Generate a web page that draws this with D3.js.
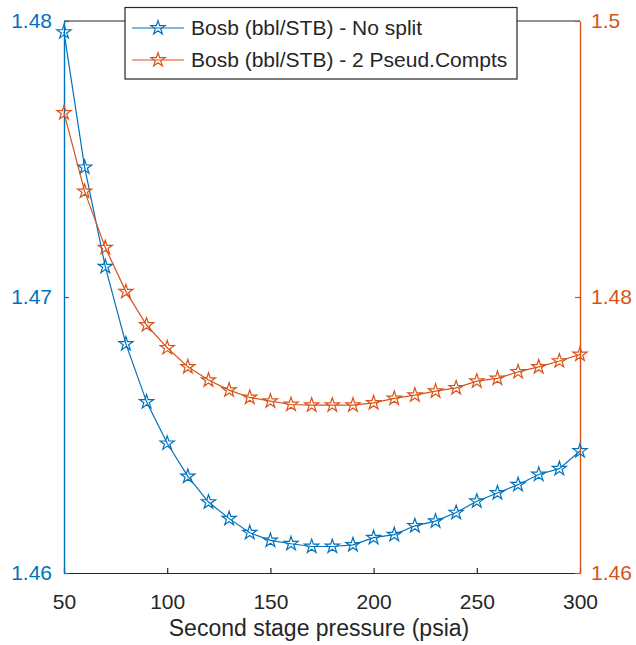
<!DOCTYPE html>
<html>
<head>
<meta charset="utf-8">
<script src="https://cdn.jsdelivr.net/npm/d3@7"></script>
<style>
  html, body { margin: 0; padding: 0; background: #fff; }
  svg { display: block; font-family: "Liberation Sans", Arial, Helvetica, sans-serif; }
</style>
</head>
<body>
<svg id="chart" width="636" height="645"></svg>
<script>
const pressure = [50,60,70,80,90,100,110,120,130,140,150,160,170,180,190,200,210,220,230,240,250,260,270,280,290,300];
const noSplit = [1.4796,1.4747,1.4711,1.4683,1.4662,1.4647,1.4635,1.46257,1.46197,1.46146,1.46118,1.46106,1.46096,1.46096,1.46102,1.46128,1.46139,1.46171,1.46188,1.46219,1.4626,1.4629,1.4632,1.46357,1.46378,1.46442];
const pseudo2 = [1.49334,1.48765,1.48358,1.48039,1.47797,1.47632,1.47494,1.47398,1.47325,1.47272,1.47245,1.47221,1.47216,1.47216,1.47216,1.47233,1.47265,1.47289,1.47318,1.47342,1.4739,1.4741,1.47458,1.47494,1.47536,1.47584];
const xTicks = [50,100,150,200,250,300];
const leftTicks = [1.46,1.47,1.48];
const rightTicks = [1.46,1.48,1.5];
const seriesNames = ["Bosb (bbl/STB) - No split","Bosb (bbl/STB) - 2 Pseud.Compts"];

const blue = "#0072BD", orange = "#D95319", dark = "#262626";
const svg = d3.select("#chart");
const L = 64, R = 580, T = 21, B = 573;
const FONT = "'Liberation Sans', Arial, sans-serif";

const x = d3.scaleLinear().domain([50,300]).range([L,R]);
const yL = d3.scaleLinear().domain([1.46,1.48]).range([B,T]);
const yR = d3.scaleLinear().domain([1.46,1.5]).range([B,T]);

// top border
svg.append("line").attr("x1",L).attr("x2",R).attr("y1",T).attr("y2",T)
  .attr("stroke",dark).attr("stroke-width",1.2);

// bottom axis
const gx = svg.append("g").attr("transform",`translate(0,${B})`)
  .call(d3.axisBottom(x).tickValues(xTicks).tickFormat(d3.format("d")).tickSizeInner(-5).tickSizeOuter(0).tickPadding(21));
gx.select(".domain").attr("stroke",dark).attr("stroke-width",1.2);
gx.selectAll(".tick line").attr("stroke",dark).attr("stroke-width",1.2);
gx.selectAll(".tick text").attr("fill",dark).style("font-size","21px").style("font-family",FONT);

// left axis
const gl = svg.append("g").attr("transform",`translate(${L},0)`)
  .call(d3.axisLeft(yL).tickValues(leftTicks).tickFormat(d3.format(".2f")).tickSizeInner(-5).tickSizeOuter(0).tickPadding(12));
gl.select(".domain").attr("stroke",blue).attr("stroke-width",1.4);
gl.selectAll(".tick line").attr("stroke",blue).attr("stroke-width",1.2);
gl.selectAll(".tick text").attr("fill",blue).style("font-size","21px").style("font-family",FONT);

// right axis
const gr = svg.append("g").attr("transform",`translate(${R},0)`)
  .call(d3.axisRight(yR).tickValues(rightTicks).tickFormat(d => d3.format(".2~f")(d)).tickSizeInner(-5).tickSizeOuter(0).tickPadding(11));
gr.select(".domain").attr("stroke",orange).attr("stroke-width",1.4);
gr.selectAll(".tick line").attr("stroke",orange).attr("stroke-width",1.2);
gr.selectAll(".tick text").attr("fill",orange).style("font-size","21px").style("font-family",FONT);

// x label
svg.append("text").attr("x",(L+R)/2 - 3).attr("y",636)
  .attr("text-anchor","middle").attr("fill",dark)
  .style("font-size","23px").text("Second stage pressure (psia)");

// star symbol
const star = d3.symbol().type(d3.symbolStar).size(62);

function drawSeries(vals, yScale, color) {
  const line = d3.line().x((d,i) => x(pressure[i])).y(d => yScale(d));
  svg.append("path").datum(vals).attr("d",line)
    .attr("fill","none").attr("stroke",color).attr("stroke-width",1.2);
  svg.append("g").selectAll("path").data(vals).join("path")
    .attr("d",star)
    .attr("transform",(d,i) => `translate(${x(pressure[i])},${yScale(d)})`)
    .attr("fill","none").attr("stroke",color).attr("stroke-width",1.2);
}
drawSeries(noSplit, yL, blue);
drawSeries(pseudo2, yR, orange);

// legend
const lg = svg.append("g");
lg.append("rect").attr("x",125).attr("y",7.5).attr("width",392).attr("height",71.5)
  .attr("fill","#fff").attr("stroke",dark).attr("stroke-width",1.2);
[[seriesNames[0],blue,28],[seriesNames[1],orange,60]].forEach(([name,color,yy]) => {
  lg.append("line").attr("x1",132).attr("x2",184).attr("y1",yy).attr("y2",yy)
    .attr("stroke",color).attr("stroke-width",1.2);
  lg.append("path").attr("d",star).attr("transform",`translate(158,${yy})`)
    .attr("fill","none").attr("stroke",color).attr("stroke-width",1.2);
  lg.append("text").attr("x",191).attr("y",yy).attr("dy","0.35em")
    .attr("fill",dark).style("font-size","21px").text(name);
});
</script>
</body>
</html>
